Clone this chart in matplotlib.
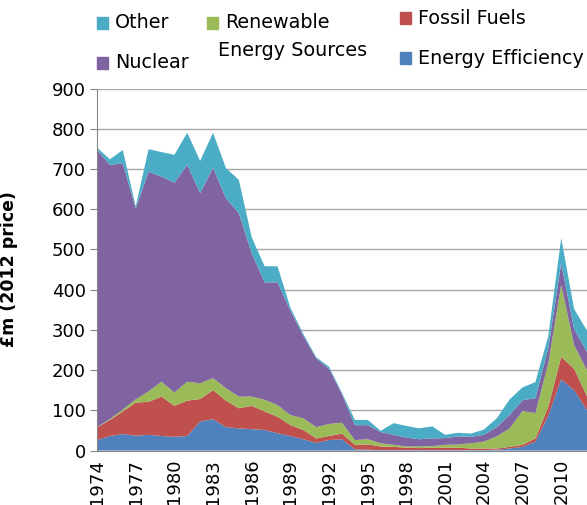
import matplotlib
matplotlib.use('Agg')
import matplotlib.pyplot as plt
from matplotlib.patches import Rectangle

plt.rcParams['font.family'] = ['DejaVu Sans']

# spending by year, £m (2012 prices)
years = list(range(1974, 2013))
energy_efficiency = [26, 36, 41, 37, 39, 36, 34, 36, 72, 78, 58, 55, 53, 51, 43, 36, 28, 19, 26, 28,
                     3, 2, 1, 1, 1, 1, 1, 1, 1, 1, 1,
                     2, 5, 9, 22, 87, 177, 150, 100]
fossil_fuels = [31, 40, 56, 82, 82, 98, 77, 88, 56, 72, 66, 50, 58, 46, 41, 27, 23, 11, 10, 14,
                11, 13, 9, 8, 6, 5, 6, 6, 6, 4, 4,
                3, 4, 5, 8, 22, 56, 53, 35]
renewables = [1, 2, 5, 8, 26, 37, 33, 47, 39, 30, 31, 29, 23, 29, 29, 25, 29, 28, 30, 27,
              12, 13, 8, 5, 3, 4, 4, 7, 8, 13, 17,
              30, 46, 84, 63, 108, 179, 59, 65]
nuclear = [690, 632, 612, 475, 546, 510, 522, 539, 473, 523, 472, 456, 356, 292, 305, 260, 205, 171, 137, 71,
           37, 35, 28, 25, 22, 18, 19, 17, 20, 16, 17,
           23, 33, 27, 37, 38, 54, 40, 45]
other = [5, 14, 33, 5, 56, 61, 69, 80, 80, 87, 75, 83, 40, 40, 40, 7, 5, 3, 5, 3,
         13, 13, 3, 29, 29, 27, 30, 8, 9, 8, 13,
         22, 39, 32, 40, 30, 62, 50, 53]

series = [energy_efficiency, fossil_fuels, renewables, nuclear, other]
colors = ['#4F81BD', '#C0504D', '#9BBB59', '#8064A2', '#4BACC6']

W, H = 587, 505
fig = plt.figure(figsize=(W / 100, H / 100), dpi=100)
ax = fig.add_axes([97 / W, 1 - 450.5 / H, 1 - 97 / W, (450.5 - 88.5) / H])

ax.stackplot(years, *series, colors=colors, linewidth=0, zorder=2)

ax.set_xlim(1974, 2012)
ax.set_ylim(0, 900)
ax.set_yticks(range(0, 901, 100))
ax.set_xticks(range(1974, 2011, 3))
ax.tick_params(axis='x', labelrotation=90, labelsize=13, length=0, pad=6)
ax.tick_params(axis='y', labelsize=13, length=5, color='#868686', pad=3)
ax.grid(axis='y', color='#A6A6A6', linewidth=1, zorder=1)
ax.set_axisbelow(True)
for s in ['top', 'right']:
    ax.spines[s].set_visible(False)
ax.spines['left'].set_color('#868686')
ax.spines['bottom'].set_color('#868686')

ax.set_ylabel('£m (2012 price)', fontsize=12.5, fontweight='bold')
ax.yaxis.set_label_coords((18 - 97) / 490, 0.5)

# legend laid out like the original (three columns, wrapped label)
def legend_item(x, y, color, label):
    fig.patches.append(Rectangle((x / W, 1 - (y + 5.5) / H), 11 / W, 11 / H,
                                 color=color, transform=fig.transFigure, figure=fig))
    fig.text((x + 18) / W, 1 - y / H, label, fontsize=13.8, va='center', ha='left')

legend_item(97, 23, colors[4], 'Other')
legend_item(97, 63, colors[3], 'Nuclear')
legend_item(207, 23, colors[2], 'Renewable')
fig.text(218 / W, 1 - 51 / H, 'Energy Sources', fontsize=13.8, va='center', ha='left')
legend_item(400, 18, colors[1], 'Fossil Fuels')
legend_item(400, 58, colors[0], 'Energy Efficiency')

fig.savefig('out.png', dpi=100)
